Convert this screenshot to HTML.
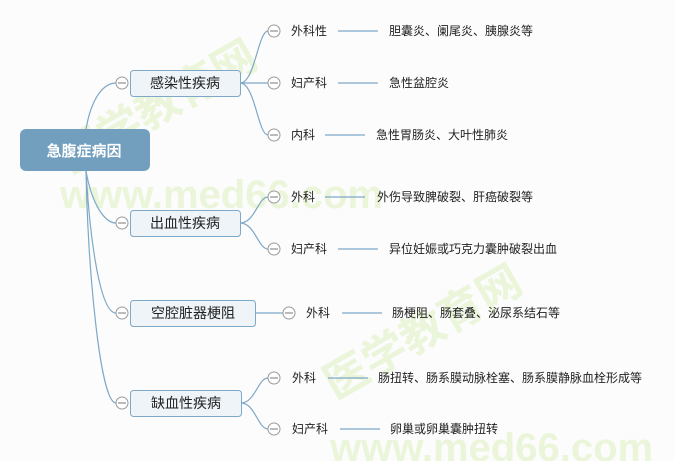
<!DOCTYPE html>
<html><head><meta charset="utf-8"><style>
html,body{margin:0;padding:0;background:#fcfcfc;}
svg{display:block;}
text{font-family:"Liberation Sans","Noto Sans CJK SC",sans-serif;}
</style></head><body>
<svg width="674" height="461" viewBox="0 0 674 461" xmlns="http://www.w3.org/2000/svg">
<rect width="674" height="461" fill="#fcfcfc"/>
<g fill="#d8efb8" opacity="0.5" font-weight="bold">
<text x="0" y="0" font-size="44" font-family="Liberation Serif,'Noto Serif CJK SC',serif" transform="translate(70,175) rotate(-30)">医学教育网</text>
<text x="60" y="208" font-size="40">www.med66.com</text>
<text x="0" y="0" font-size="44" font-family="Liberation Serif,'Noto Serif CJK SC',serif" transform="translate(335,400) rotate(-30)">医学教育网</text>
<text x="330" y="461" font-size="40">www.med66.com</text>
</g>
<g fill="none" stroke="#7ea8c8" stroke-width="1.2">
<path d="M86,129 C92,95 105,83 116,83"/>
<path d="M86,171 C92,205 105,223 116,223"/>
<path d="M86,171 C90,240 100,313 116,313"/>
<path d="M86,171 C88,270 100,403 116,403"/>
<path d="M240,83 C255,83 258,31 268,31"/>
<path d="M240,83 L268,83"/>
<path d="M240,83 C255,83 258,135 268,135"/>
<path d="M240,223 C255,223 258,197 268,197"/>
<path d="M240,223 C255,223 258,249 268,249"/>
<path d="M255,313 L283,313"/>
<path d="M241,403 C255,403 258,378 268,378"/>
<path d="M241,403 C255,403 258,429 268,429"/>
<path d="M338,31 H378 M338,83 H378 M325,135 H365 M325,197 H365 M338,249 H378 M342,313 H382 M328,378 H368 M340,429 H380"/>
</g>
<rect x="20" y="129" width="130" height="42" rx="6" fill="#739fbf"/>
<text x="84" y="156" font-size="15" font-weight="bold" fill="#fff" text-anchor="middle">急腹症病因</text>
<g fill="#eef4f8" stroke="#7ea8c8" stroke-width="1">
<rect x="130.5" y="70.5" width="110" height="26" rx="3"/>
<rect x="130.5" y="210.5" width="110" height="26" rx="3"/>
<rect x="130.5" y="300.5" width="125" height="26" rx="3"/>
<rect x="130.5" y="390.5" width="111" height="26" rx="3"/>
</g>
<g font-size="14" fill="#222" text-anchor="middle">
<text x="185" y="88">感染性疾病</text>
<text x="185" y="228">出血性疾病</text>
<text x="193" y="318">空腔脏器梗阻</text>
<text x="186" y="408">缺血性疾病</text>
</g>
<g fill="#fff" stroke="#999" stroke-width="1">
<circle cx="122" cy="83" r="6"/><circle cx="122" cy="223" r="6"/><circle cx="122" cy="313" r="6"/><circle cx="122" cy="403" r="6"/>
<circle cx="274" cy="31" r="6"/><circle cx="274" cy="83" r="6"/><circle cx="274" cy="135" r="6"/>
<circle cx="274" cy="197" r="6"/><circle cx="274" cy="249" r="6"/>
<circle cx="289" cy="313" r="6"/>
<circle cx="274" cy="378" r="6"/><circle cx="274" cy="429" r="6"/>
</g>
<g stroke="#777" stroke-width="1">
<path d="M118,83H126M118,223H126M118,313H126M118,403H126M270,31H278M270,83H278M270,135H278M270,197H278M270,249H278M285,313H293M270,378H278M270,429H278"/>
</g>
<g font-size="12" fill="#222">
<text x="291" y="35">外科性</text>
<text x="389" y="35">胆囊炎、阑尾炎、胰腺炎等</text>
<text x="291" y="87">妇产科</text>
<text x="389" y="87">急性盆腔炎</text>
<text x="291" y="139">内科</text>
<text x="376" y="139">急性胃肠炎、大叶性肺炎</text>
<text x="291" y="201">外科</text>
<text x="377" y="201">外伤导致脾破裂、肝癌破裂等</text>
<text x="291" y="253">妇产科</text>
<text x="389" y="253">异位妊娠或巧克力囊肿破裂出血</text>
<text x="306" y="317">外科</text>
<text x="392" y="317">肠梗阻、肠套叠、泌尿系结石等</text>
<text x="292" y="382">外科</text>
<text x="378" y="382">肠扭转、肠系膜动脉栓塞、肠系膜静脉血栓形成等</text>
<text x="292" y="433">妇产科</text>
<text x="390" y="433">卵巢或卵巢囊肿扭转</text>
</g>
</svg>
</body></html>
